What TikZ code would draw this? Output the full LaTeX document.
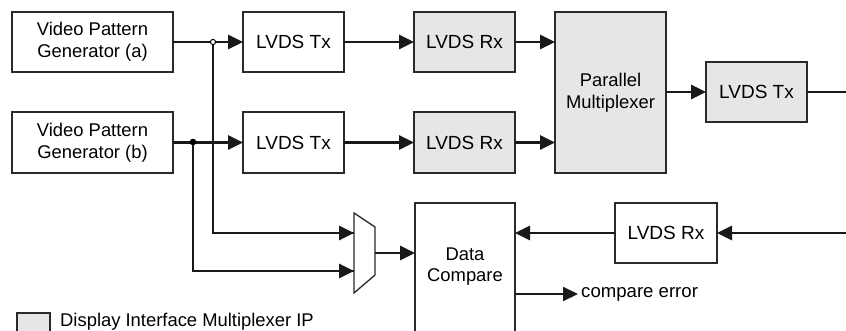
\documentclass[tikz,border=0pt]{standalone}
\usepackage{fontspec}
\setmainfont{Liberation Sans}
\usetikzlibrary{arrows.meta}
\definecolor{ipgray}{HTML}{E6E6E6}
\definecolor{edge}{HTML}{2A2A2A}
\tikzset{
  blk/.style={draw=edge, line width=1.5pt, fill=white, inner sep=0pt, outer sep=0pt,
    align=center, font=\fontsize{18.4}{22}\selectfont},
  ipblk/.style={blk, fill=ipgray},
  lvds/.style={font=\fontsize{19}{22}\selectfont},
  wire/.style={draw=black!90, line width=2.8pt},
  flow/.style={wire, -{Triangle[length=15pt,width=14pt]}},
  thinflow/.style={draw=black!90, line width=2.2pt, -{Triangle[length=15pt,width=14pt]}},
}
\begin{document}
\begin{tikzpicture}[x=1pt,y=-1pt]
\useasboundingbox (0,0) rectangle (846,331);
\clip (0,0) rectangle (846,331);

% pattern generators
\node[blk, minimum width=161pt, minimum height=60pt] (vpga) at (92.5,42) {Video Pattern\\Generator (a)};
\node[blk, minimum width=161pt, minimum height=61pt] (vpgb) at (92.5,142.5) {Video Pattern\\Generator (b)};

% serial links
\node[blk, lvds, minimum width=101pt, minimum height=60pt] (txa) at (293.5,42) {LVDS Tx};
\node[blk, lvds, minimum width=101pt, minimum height=61pt] (txb) at (293.5,142.5) {LVDS Tx};
\node[ipblk, lvds, minimum width=101pt, minimum height=60pt] (rxa) at (464.5,42) {LVDS Rx};
\node[ipblk, lvds, minimum width=101pt, minimum height=61pt] (rxb) at (464.5,142.5) {LVDS Rx};

% multiplexer and output transmitter
\node[ipblk, minimum width=111pt, minimum height=161pt] (pmux) at (610.5,92.5) {Parallel\\Multiplexer};
\node[ipblk, lvds, minimum width=101pt, minimum height=60pt] (txo) at (756.5,92) {LVDS Tx};

% return path
\node[blk, lvds, minimum width=102pt, minimum height=60pt] (rxr) at (666,233) {LVDS Rx};
\node[blk, minimum width=100pt, minimum height=138pt] (cmp) at (465,272) {};
\node[font=\fontsize{18.4}{21}\selectfont, align=center] (cmpt) at (465,267) {Data\\Compare};

% selector
\draw[draw=edge, line width=1.3pt, fill=white] (354,213) -- (375,227) -- (375,275) -- (354,293) -- cycle;
\coordinate (selina) at (354,233);
\coordinate (selinb) at (354,271);
\coordinate (selout) at (375,253);

% junctions
\coordinate (ja) at (213,42);
\coordinate (jb) at (193,142);
\coordinate (txoend) at (846,92);
\coordinate (rtnstart) at (846,233);

% forward paths
\draw[flow] (vpga.east) -- (txa.west);
\draw[flow] (vpgb.east) -- (txb.west);
\draw[flow] (txa.east) -- (rxa.west);
\draw[flow] (txb.east) -- (rxb.west);
\draw[flow] (rxa.east) -- (pmux.west |- rxa.east);
\draw[flow] (rxb.east) -- (pmux.west |- rxb.east);
\draw[flow] (pmux.east |- txo.west) -- (txo.west);
\draw[wire] (txo.east) -- (txoend);

% loop-back to the selector
\draw[wire] (jb) |- (selinb);
\draw[flow] (jb |- selinb) -- (selinb);
\draw[wire] (ja) |- (selina);
\draw[flow] (ja |- selina) -- (selina);
\fill[black] (jb) circle (3.3pt);
\filldraw[draw=black, fill=white, line width=1pt] (ja) circle (2.6pt);
\draw[flow] (selout) -- (cmp.west |- selout);

% return path
\draw[flow] (rtnstart) -- (rxr.east);
\draw[flow] (rxr.west) -- (cmp.east |- rxr.west);
\coordinate (errend) at (578,294);
\draw[thinflow] (cmp.east |- errend) -- (errend);
\node[anchor=west, font=\fontsize{18.6}{21}\selectfont, inner sep=0pt] (errlbl) at (581,294) {compare error};

% legend
\node[draw=edge, line width=1.2pt, fill=ipgray, minimum width=33pt, minimum height=30pt, inner sep=0pt] (legbox) at (33.5,328) {};
\node[anchor=base west, font=\fontsize{18.4}{21}\selectfont, inner sep=0pt] (legtxt) at (60,326.3) {Display Interface Multiplexer IP};
\end{tikzpicture}
\end{document}
